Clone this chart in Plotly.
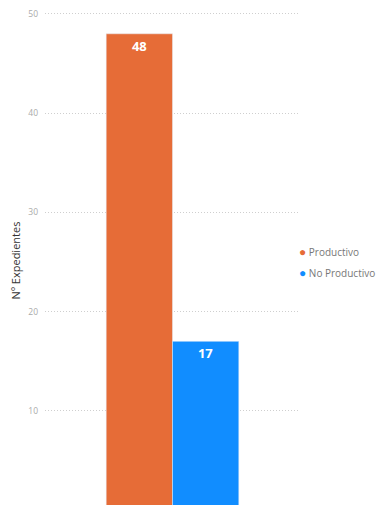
import plotly.graph_objects as go

categories = ["Productivo", "No Productivo"]
values = [48, 17]
colors = ["#E66C37", "#118DFF"]

fig = go.Figure()
for name, val, col in zip(categories, values, colors):
    fig.add_trace(go.Bar(
        x=[""], y=[val], name=name, marker_color=col, showlegend=False,
        text=[str(val)], textposition="inside", insidetextanchor="end",
        textfont=dict(color="white", size=13, family="Open Sans", weight="bold"),
    ))

# legend drawn as text with coloured dots, close to the plot like the original
for i, (name, col) in enumerate(zip(categories, colors)):
    fig.add_annotation(
        x=1.0, xref="paper", xanchor="left",
        y=0.517 - i * 0.04, yref="paper", yanchor="middle",
        text=f"<span style='color:{col};font-size:12px'>●</span> {name}",
        showarrow=False, font=dict(size=10, color="#777"), xshift=-3,
    )

# page is drawn with an 8px body margin, so the figure sits 8px right/down
fig.update_layout(
    width=384, height=505,
    margin=dict(l=37, r=92, t=0, b=0, autoexpand=False),
    plot_bgcolor="white", paper_bgcolor="white",
    barmode="group", bargap=0.48,
    font=dict(family="Open Sans", color="#777"),
    showlegend=False,
    xaxis=dict(showticklabels=False, showgrid=False, zeroline=False),
    yaxis=dict(range=[-0.3, 50.6], tickvals=[10, 20, 30, 40, 50], automargin=False,
               showgrid=True, gridcolor="#cfcfcf", griddash="1px,2px", gridwidth=1,
               zeroline=False, ticks="", ticklabelstandoff=6,
               ticklabeloverflow="allow",
               tickfont=dict(size=8.5, color="#aaa"),
               title=dict(text="Nº Expedientes", font=dict(size=11, color="#333"),
                          standoff=5)),
)

fig.write_html("out.html")
